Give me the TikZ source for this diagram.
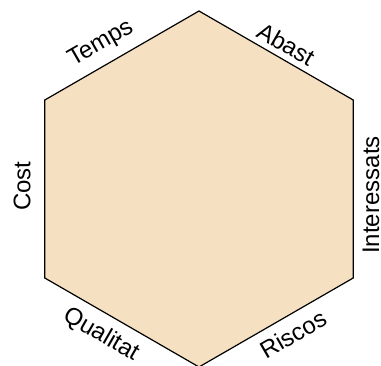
\documentclass[tikz,border=0pt]{standalone}
\usepackage{fontspec}
\setmainfont{Liberation Sans}
\definecolor{hexfill}{RGB}{245,225,194}
\tikzset{
  side/.style={inner sep=0pt, font=\fontsize{24}{28}\selectfont},
}
\begin{document}
\begin{tikzpicture}[x=1pt, y=1pt]
    \useasboundingbox (0,0) rectangle (381,365);

    % hexagon corners
    \coordinate (top) at (199,354);
    \coordinate (ur) at (353.2,265);
    \coordinate (lr) at (353.2,87);
    \coordinate (bot) at (199,-2);
    \coordinate (ll) at (44.8,87);
    \coordinate (ul) at (44.8,265);

    \draw[line width=1.2pt, fill=hexfill, line join=miter]
        (top) -- (ur) -- (lr) -- (bot) -- (ll) -- (ul) -- cycle;

    \node[side, rotate=30]  (temps) at (101,321) {Temps};
    \node[side, rotate=-30] (abast) at (286,321) {Abast};
    \node[side, rotate=90]  (cost) at (22,179) {Cost};
    \node[side, rotate=90]  (inter) at (371,170) {Interessats};
    \node[side, rotate=-30] (qual) at (101,30) {Qualitat};
    \node[side, rotate=30]  (riscos) at (293,31) {Riscos};
\end{tikzpicture}
\end{document}
